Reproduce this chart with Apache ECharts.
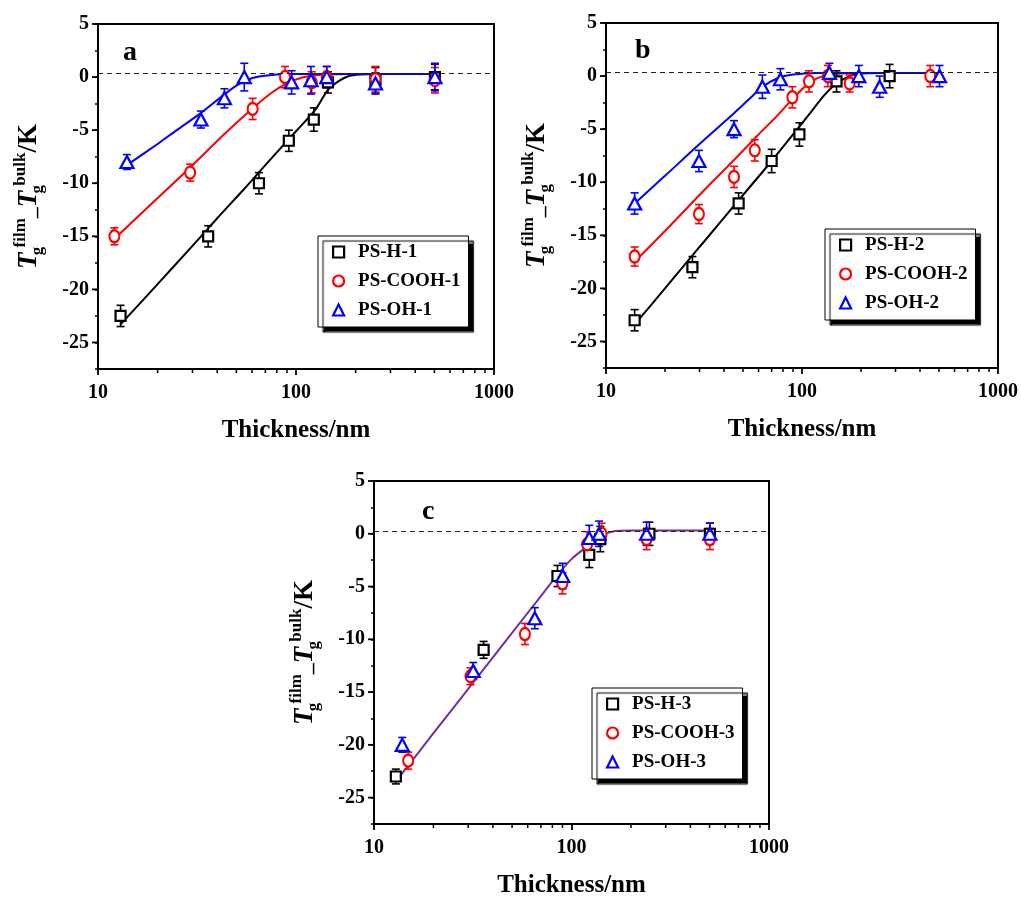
<!DOCTYPE html>
<html>
<head>
<meta charset="utf-8">
<script src="https://cdn.jsdelivr.net/npm/echarts@6/dist/echarts.min.js"></script>
<style>
html,body{margin:0;padding:0;background:#fff;}
#chart{width:1021px;height:900px;}
</style>
</head>
<body>
<div id="chart"></div>
<script>
// ---------- data ----------
// Panel a
const hA_x   = [13, 36, 65, 92, 123, 145, 252, 503];
const hA_y   = [-22.5, -15, -10, -6, -4, -0.5, -0.3, 0];
const hA_err = [1, 1, 1, 1, 1.1, 1, 1.2, 1.2];
const cA_x   = [12.1, 29.2, 60.4, 88, 120, 143, 252, 503];
const cA_y   = [-15, -9, -3, 0, -0.5, 0, -0.2, -0.3];
const cA_err = [0.8, 0.8, 1, 1, 1, 1, 1.2, 1.2];
const oA_x   = [14, 33.1, 43.5, 54.8, 95, 119, 143, 252, 503];
const oA_y   = [-8, -4, -2, 0, -0.5, -0.3, 0, -0.6, 0];
const oA_err = [0.7, 0.8, 0.9, 1.3, 1.1, 1.3, 1, 1, 1.3];
const fitHA_x = [13, 20, 30, 40, 55, 70, 100, 125, 145, 165, 185, 210, 260, 500];
const fitHA_y = [-23.3, -19.5, -15.9, -13.3, -10.5, -8.3, -5.1, -3.1, -1.2, -0.35, 0.1, 0.25, 0.3, 0.3];
const fitCA_x = [12, 20, 30, 45, 60, 75, 90, 110, 140, 200, 500];
const fitCA_y = [-15.3, -11.4, -8.3, -5.1, -3.0, -1.5, -0.6, 0.0, 0.25, 0.3, 0.3];
const fitOA_x = [14, 20, 25, 33, 43, 50, 56, 65, 80, 100, 500];
const fitOA_y = [-8.3, -6.3, -5.0, -3.4, -1.7, -0.8, -0.3, 0.05, 0.25, 0.3, 0.3];
// Panel b
const hB_x   = [14, 27.6, 47.5, 70, 97, 150, 280];
const hB_y   = [-23, -18, -12, -8, -5.5, -0.5, 0];
const hB_err = [1, 1, 1, 1.1, 1.1, 1, 1.1];
const cB_x   = [14, 29.8, 45, 57.4, 89.3, 108.6, 135.5, 175, 451];
const cB_y   = [-17, -13, -9.5, -7, -2, -0.5, 0, -0.7, 0];
const cB_err = [0.9, 0.9, 1, 1, 1, 1, 1, 0.8, 1];
const oB_x   = [14, 29.8, 45, 62.8, 77.6, 138, 195, 249, 503];
const oB_y   = [-12, -8, -5, -1, -0.3, 0.3, 0, -1, 0];
const oB_err = [1, 1, 0.8, 1.1, 1, 0.9, 1, 1, 1];
const fitHB_x = [14, 20, 30, 48, 70, 90, 110, 130, 150, 175, 200, 250, 500];
const fitHB_y = [-23.4, -20.0, -16.1, -11.6, -8.0, -5.5, -3.5, -1.8, -0.7, 0.0, 0.25, 0.3, 0.3];
const fitCB_x = [14, 20, 30, 45, 60, 75, 90, 105, 120, 140, 180, 500];
const fitCB_y = [-17.5, -14.6, -11.2, -7.9, -5.5, -3.7, -2.1, -0.9, -0.2, 0.15, 0.3, 0.3];
const fitOB_x = [14, 20, 30, 45, 55, 63, 75, 90, 120, 500];
const fitOB_y = [-12.0, -9.4, -6.4, -3.5, -2.0, -1.0, -0.2, 0.15, 0.3, 0.3];
// Panel c
const hC_x   = [12.9, 35.9, 84.9, 123, 140, 248, 502];
const hC_y   = [-23, -11, -4, -2, -0.5, 0, 0];
const hC_err = [0.7, 0.8, 1, 1.2, 1.2, 1.1, 1];
const cC_x   = [14.9, 30.8, 58.1, 90, 120, 142, 240, 502];
const cC_y   = [-21.5, -13.5, -9.5, -4.7, -1, 0, -0.5, -0.5];
const cC_err = [0.8, 0.8, 1, 1, 1.2, 1, 1, 1];
const oC_x   = [13.9, 31.8, 65.2, 90.3, 123, 138, 240, 502];
const oC_y   = [-20, -13, -8, -4, -0.4, 0, 0, 0];
const oC_err = [0.7, 0.8, 1, 1.2, 1.2, 1.2, 1.1, 1];
const fitC_x = [13, 20, 30, 50, 70, 85, 100, 120, 140, 160, 200, 500];
const fitC_y = [-23.4, -18.9, -14.7, -9.4, -5.9, -3.9, -2.4, -1.2, -0.2, 0.2, 0.3, 0.3];
// reference (dashed) level per panel
const DASH_A = 0.35, DASH_B = 0.4, DASH_C = 0.25;
// axis ticks
const X_MIN = 10, X_MAX = 1000;
const Y_MIN = -27.5, Y_MAX = 5;
const X_MINOR = [20, 30, 40, 50, 60, 70, 80, 90, 200, 300, 400, 500, 600, 700, 800, 900];
const Y_MAJOR = [-25, -20, -15, -10, -5, 0, 5];

// ---------- styling ----------
const FONT = 'Liberation Serif';
const BLACK = '#000000', RED = '#ff0000', BLUE = '#0000ff', PURPLE = '#7030a0';

const panels = [
  { grid: {left: 98, top: 24, width: 396, height: 345}, letter: 'a', letterPos: {left: 118, top: 34},
    legendPos: {left: 318, top: 236}, dash: DASH_A,
    groups: [
      {name: 'PS-H-1', symbol: 'rect', size: 10, color: BLACK, x: hA_x, y: hA_y, err: hA_err, fx: fitHA_x, fy: fitHA_y},
      {name: 'PS-COOH-1', symbol: 'circle', size: [10, 12], color: RED, x: cA_x, y: cA_y, err: cA_err, fx: fitCA_x, fy: fitCA_y},
      {name: 'PS-OH-1', symbol: 'triangle', size: [13, 12], color: BLUE, x: oA_x, y: oA_y, err: oA_err, fx: fitOA_x, fy: fitOA_y}
    ]},
  { grid: {left: 606, top: 23, width: 392, height: 345}, letter: 'b', letterPos: {left: 630, top: 32},
    legendPos: {left: 825, top: 229}, dash: DASH_B,
    groups: [
      {name: 'PS-H-2', symbol: 'rect', size: 10, color: BLACK, x: hB_x, y: hB_y, err: hB_err, fx: fitHB_x, fy: fitHB_y},
      {name: 'PS-COOH-2', symbol: 'circle', size: [10, 12], color: RED, x: cB_x, y: cB_y, err: cB_err, fx: fitCB_x, fy: fitCB_y},
      {name: 'PS-OH-2', symbol: 'triangle', size: [13, 12], color: BLUE, x: oB_x, y: oB_y, err: oB_err, fx: fitOB_x, fy: fitOB_y}
    ]},
  { grid: {left: 374, top: 481, width: 395, height: 343}, letter: 'c', letterPos: {left: 417, top: 493},
    legendPos: {left: 592, top: 688}, dash: DASH_C,
    groups: [
      {name: 'PS-H-3', symbol: 'rect', size: 10, color: BLACK, x: hC_x, y: hC_y, err: hC_err},
      {name: 'PS-COOH-3', symbol: 'circle', size: [10, 12], color: RED, x: cC_x, y: cC_y, err: cC_err},
      {name: 'PS-OH-3', symbol: 'triangle', size: [13, 12], color: BLUE, x: oC_x, y: oC_y, err: oC_err}
    ],
    fits: [{color: PURPLE, fx: fitC_x, fy: fitC_y}]
  }
];

const yNameRich = {
  it:   {fontFamily: FONT, fontStyle: 'italic', fontWeight: 'bold', fontSize: 27, lineHeight: 34, color: '#000'},
  sub:  {fontFamily: FONT, fontWeight: 'bold', fontSize: 17, lineHeight: 15, verticalAlign: 'bottom', width: 1, color: '#000', padding: [0, 0, 0, 1]},
  sup:  {fontFamily: FONT, fontWeight: 'bold', fontSize: 17, lineHeight: 15, verticalAlign: 'top', color: '#000', padding: [0, 0, 0, 3]},
  dash: {fontFamily: FONT, fontWeight: 'bold', fontSize: 22, lineHeight: 34, color: '#000'},
  k:    {fontFamily: FONT, fontWeight: 'bold', fontSize: 27, lineHeight: 34, color: '#000'}
};
const Y_NAME = '{it|T}{sub|g}{sup|film}{dash|_}{it|T}{sub|g}{sup|bulk}{k|/K}';

function errRender(color) {
  return function (params, api) {
    const x = api.value(0), y = api.value(1), e = api.value(2);
    const t = api.coord([x, y + e]);
    const b = api.coord([x, y - e]);
    const hw = 4;
    const st = {stroke: color, lineWidth: 1.6};
    return {type: 'group', children: [
      {type: 'line', shape: {x1: t[0], y1: t[1], x2: b[0], y2: b[1]}, style: st},
      {type: 'line', shape: {x1: t[0] - hw, y1: t[1], x2: t[0] + hw, y2: t[1]}, style: st},
      {type: 'line', shape: {x1: b[0] - hw, y1: b[1], x2: b[0] + hw, y2: b[1]}, style: st}
    ]};
  };
}
function xMinorRender(params, api) {
  const p = api.coord([api.value(0), Y_MIN]);
  return {type: 'line', shape: {x1: p[0], y1: p[1], x2: p[0], y2: p[1] + 4}, style: {stroke: '#000', lineWidth: 1.5}};
}
function yMajorRender(params, api) {
  const p = api.coord([X_MIN, api.value(1)]);
  return {type: 'line', shape: {x1: p[0] - 6, y1: p[1], x2: p[0], y2: p[1]}, style: {stroke: '#000', lineWidth: 1.8}};
}

const option = {
  backgroundColor: '#fff',
  animation: false,
  title: [], grid: [], xAxis: [], yAxis: [], legend: [], series: []
};

panels.forEach((P, i) => {
  option.grid.push(Object.assign({show: true, borderColor: '#000', borderWidth: 2, backgroundColor: 'transparent'}, P.grid));
  option.title.push(Object.assign({text: P.letter, textStyle: {fontFamily: FONT, fontWeight: 'bold', fontSize: 28, color: '#000'}}, P.letterPos));
  option.xAxis.push({
    gridIndex: i, type: 'log', logBase: 10, min: X_MIN, max: X_MAX,
    name: 'Thickness/nm', nameLocation: 'middle', nameGap: 49,
    nameTextStyle: {fontFamily: FONT, fontWeight: 'bold', fontSize: 25, color: '#000'},
    axisLine: {onZero: false, lineStyle: {color: '#000', width: 2}},
    axisTick: {inside: false, length: 6, lineStyle: {color: '#000', width: 1.8}},
    minorTick: {show: false},
    splitLine: {show: false},
    axisLabel: {fontFamily: FONT, fontWeight: 'bold', fontSize: 20, color: '#000', margin: 14,
      formatter: v => String(Math.round(v))}
  });
  option.yAxis.push({
    gridIndex: i, type: 'value', min: Y_MIN, max: Y_MAX, interval: 2.5,
    name: Y_NAME, nameLocation: 'middle', nameRotate: 90, nameGap: 52,
    nameTextStyle: {rich: yNameRich},
    axisLine: {onZero: false, lineStyle: {color: '#000', width: 2}},
    axisTick: {inside: false, length: 3, lineStyle: {color: '#000', width: 1.5}},
    splitLine: {show: false},
    axisLabel: {fontFamily: FONT, fontWeight: 'bold', fontSize: 20, color: '#000', margin: 9,
      formatter: v => (Math.abs(v % 5) < 1e-9 ? String(v) : '')}
  });
  option.legend.push(Object.assign({
    orient: 'vertical', itemWidth: 11, itemHeight: 11, itemGap: 9,
    padding: [6, 8, 7, 14],
    backgroundColor: '#fff', borderColor: '#000', borderWidth: 1,
    shadowColor: '#000', shadowBlur: 1, shadowOffsetX: 5, shadowOffsetY: 5,
    textStyle: {fontFamily: FONT, fontWeight: 'bold', fontSize: 19, color: '#000', lineHeight: 20, padding: [0, 0, 0, 9]},
    data: P.groups.map(g => ({name: g.name, icon: g.symbol,
      itemStyle: {color: '#fff', borderColor: g.color, borderWidth: 2.2}}))
  }, P.legendPos));

  let markAttached = false;
  const dashMark = {
    silent: true, symbol: ['none', 'none'], label: {show: false},
    lineStyle: {type: [5, 4], color: '#222', width: 1.2},
    data: [{yAxis: P.dash}]
  };

  const fits = P.fits || P.groups.map(g => ({color: g.color, fx: g.fx, fy: g.fy}));
  fits.forEach(f => {
    const s = {
      type: 'line', xAxisIndex: i, yAxisIndex: i, z: 2,
      data: f.fx.map((v, k) => [v, f.fy[k]]),
      smooth: 0.3, showSymbol: false, symbol: 'none',
      lineStyle: {color: f.color, width: 2}, itemStyle: {color: f.color}
    };
    if (!markAttached) { s.markLine = dashMark; markAttached = true; }
    option.series.push(s);
  });

  P.groups.forEach(g => {
    option.series.push({
      type: 'custom', xAxisIndex: i, yAxisIndex: i, z: 3,
      renderItem: errRender(g.color), encode: {x: 0, y: 1},
      data: g.x.map((v, k) => [v, g.y[k], g.err[k]])
    });
  });
  P.groups.forEach(g => {
    option.series.push({
      name: g.name, type: 'scatter', xAxisIndex: i, yAxisIndex: i, z: 4,
      symbol: g.symbol, symbolSize: g.size,
      itemStyle: {color: '#fff', borderColor: g.color, borderWidth: 2.2, opacity: 1},
      data: g.x.map((v, k) => [v, g.y[k]])
    });
  });
  option.series.push({
    type: 'custom', xAxisIndex: i, yAxisIndex: i, z: 5, silent: true,
    renderItem: xMinorRender, encode: {x: 0, y: 1},
    data: X_MINOR.map(v => [v, Y_MIN])
  });
  option.series.push({
    type: 'custom', xAxisIndex: i, yAxisIndex: i, z: 5, silent: true,
    renderItem: yMajorRender, encode: {x: 0, y: 1},
    data: Y_MAJOR.map(v => [X_MIN, v])
  });
});

const chart = echarts.init(document.getElementById('chart'), null, {renderer: 'canvas'});
chart.setOption(option);
</script>
</body>
</html>
